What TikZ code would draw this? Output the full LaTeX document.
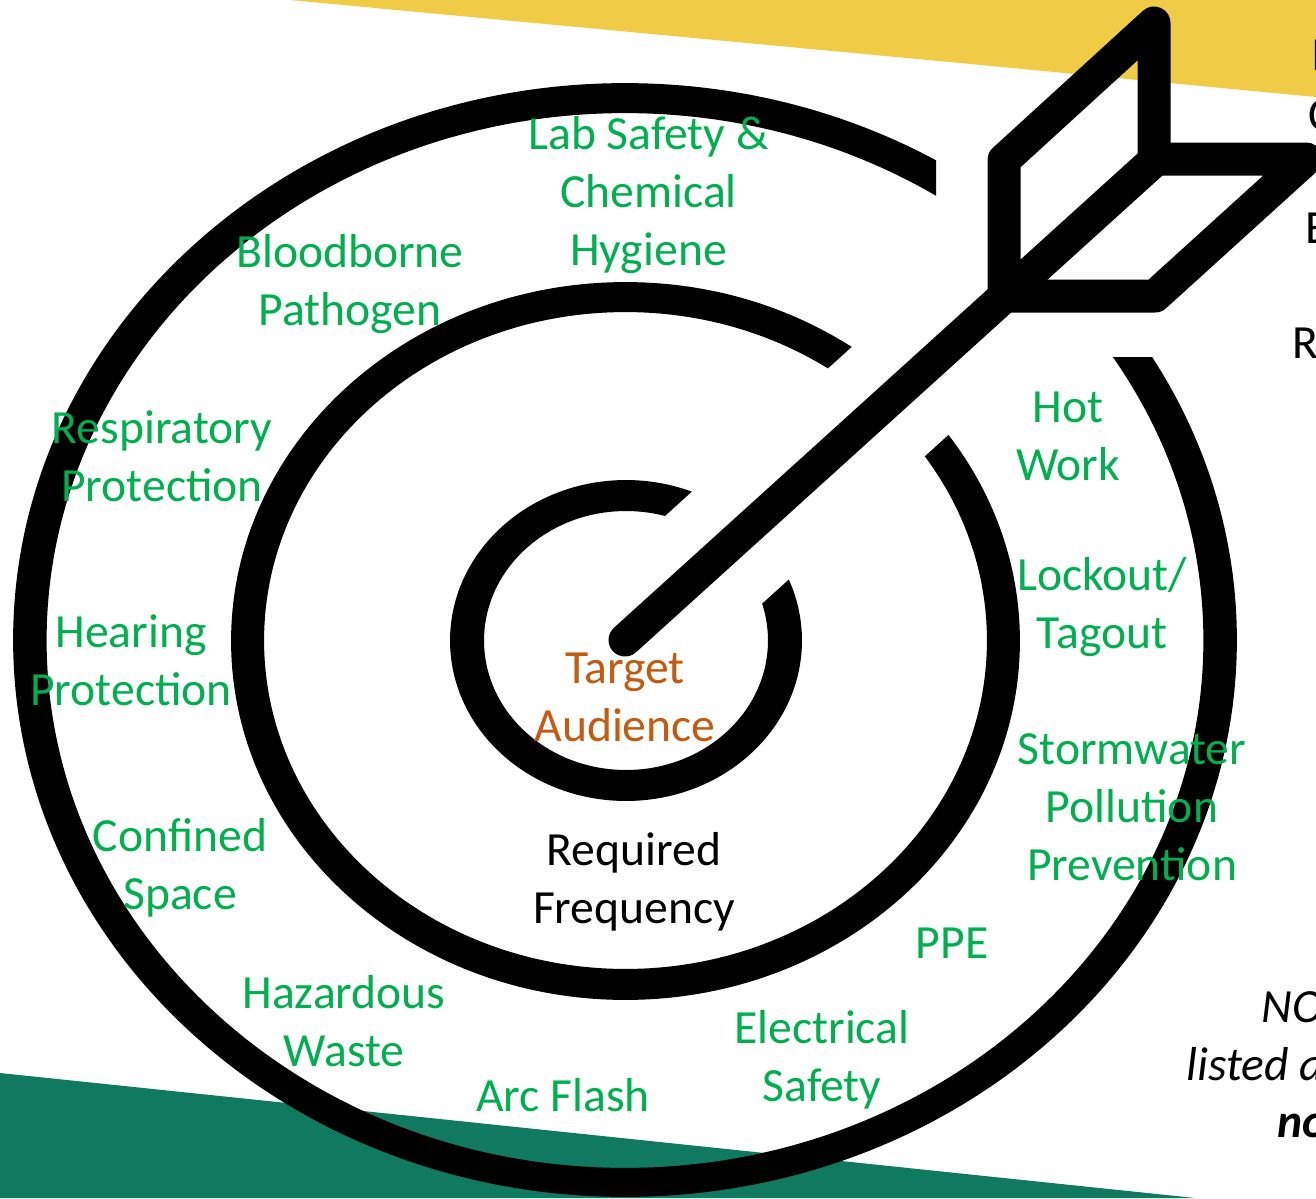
\documentclass[tikz,border=0pt]{standalone}
\usepackage{fontspec}
\setmainfont{Carlito}
\definecolor{bandyellow}{HTML}{F0CB45}
\definecolor{bandgreen}{HTML}{0F7A5F}
\definecolor{labelgreen}{HTML}{00B050}
\definecolor{labelorange}{HTML}{C55A11}
\tikzset{
  ring/.style={fill=black,even odd rule},
  arrowline/.style={draw=black,line width=0.66cm,line join=round,line cap=round},
  lbl/.style={inner sep=0pt,align=center,font=\fontsize{27.1}{33}\selectfont},
  topic/.style={lbl,text=labelgreen},
  edgetext/.style={inner sep=0pt,anchor=base west,text=black,font=\fontsize{27.1}{33}\selectfont},
}
\begin{document}
\begin{tikzpicture}[x=0.02cm,y=-0.02cm]
\useasboundingbox (0,0) rectangle (1316,1198);
\clip (0,0) rectangle (1316,1198);
\fill[white] (0,0) rectangle (1316,1198);
% background bands
\fill[bandyellow] (290,0) -- (1316,0) -- (1316,97) -- (960,63) -- cycle;
\fill[bandgreen] (0,1073) -- (1195,1198) -- (0,1198) -- cycle;
% outer ring
\begin{scope}
\clip (-200,-200) -- (936,-200) -- (936,357) -- (1600,357) -- (1600,1400) -- (-200,1400) -- cycle;
\path[ring] (625,640) ellipse [x radius=12.24cm,y radius=11.14cm]
            (625,640.5) ellipse [x radius=11.57cm,y radius=10.55cm];
\end{scope}
% middle and inner rings
\begin{scope}
\clip (581,592) -- (1322,-79) -- (-200,-200) -- (-200,1400) -- (1600,1400) -- (1600,17) -- (1410,17) -- (669,688) -- cycle;
\path[ring] (625.5,641) ellipse [x radius=7.89cm,y radius=7.18cm]
            (625.5,640.5) ellipse [x radius=7.23cm,y radius=6.57cm];
\path[ring] (626,640.5) ellipse [x radius=3.52cm,y radius=3.21cm]
            (626,640.5) ellipse [x radius=2.84cm,y radius=2.59cm];
\end{scope}
% arrow
\path[arrowline] (625,640) -- (1155,160);
\path[arrowline] (1004,296) -- (1004,160) -- (1154,23) -- (1154,160);
\path[arrowline] (1154,159) -- (1306,159) -- (1155,296) -- (1004,296);
% labels
\node[topic] (lab) at (648.5,196) {\strut Lab Safety \&\\\strut Chemical\\\strut Hygiene};
\node[topic] (blood) at (350,285) {\strut Bloodborne\\\strut Pathogen};
\node[topic] (resp) at (162,461) {\strut Respiratory\\\strut Protection};
\node[topic] (hear) at (131,665) {\strut Hearing\\\strut Protection};
\node[topic] (conf) at (180,869) {\strut Confined\\\strut Space};
\node[topic] (haz) at (344,1026) {\strut Hazardous\\\strut Waste};
\node[topic] (arc) at (563,1100) {\strut Arc Flash};
\node[topic] (elec) at (822,1061) {\strut Electrical\\\strut Safety};
\node[topic] (ppe) at (952,947) {\strut PPE};
\node[topic] (storm) at (1132,810.5) {\strut Stormwater\\\strut Pollution\\\strut Prevention};
\node[topic] (lock) at (1102,608) {\strut Lockout/\\\strut Tagout};
\node[topic] (hot) at (1068,440) {\strut Hot\\\strut Work};
\node[lbl,text=labelorange] (target) at (625,701) {\strut Target\\\strut Audience};
\node[lbl,text=black] (freq) at (634,883) {\strut Required\\\strut Frequency};
% text cut off by the right edge
\node[edgetext] (e0) at (1311,70) {I};
\node[edgetext] (e1) at (1308,130) {C};
\node[edgetext] (e2) at (1305,243) {E};
\node[edgetext] (e3) at (1292,358) {R};
\node[edgetext,font=\fontsize{27.1}{33}\selectfont\itshape] (e4) at (1261,1022) {NO};
\node[edgetext,font=\fontsize{27.1}{33}\selectfont\itshape] (e5) at (1186,1080) {listed a};
\node[edgetext,font=\fontsize{27.1}{33}\selectfont\itshape\bfseries] (e6) at (1277,1137) {no};
\end{tikzpicture}
\end{document}
